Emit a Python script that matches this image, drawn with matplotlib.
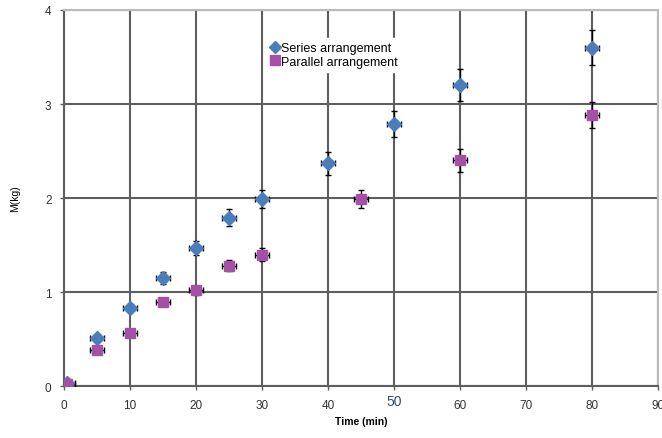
import numpy as np
import matplotlib
matplotlib.use("Agg")
import matplotlib.pyplot as plt
from matplotlib.lines import Line2D

plt.rcParams['font.family'] = ['Liberation Sans', 'DejaVu Sans']

series_t = [0.5, 5, 10, 15, 20, 25, 30, 40, 50, 60, 80]
series_m = [0.03, 0.51, 0.83, 1.15, 1.47, 1.79, 1.99, 2.37, 2.79, 3.20, 3.60]
series_err = [0.01, 0.03, 0.04, 0.06, 0.07, 0.09, 0.10, 0.12, 0.14, 0.17, 0.19]

parallel_t = [0.5, 5, 10, 15, 20, 25, 30, 45, 60, 80]
parallel_m = [0.02, 0.38, 0.57, 0.89, 1.02, 1.28, 1.40, 1.99, 2.40, 2.88]
parallel_err = [0.01, 0.02, 0.03, 0.04, 0.05, 0.06, 0.07, 0.10, 0.12, 0.14]

t_err = 1.1

blue = '#4a7ebb'
purple = '#a550a6'

fig = plt.figure(figsize=(6.62, 4.39), dpi=100)
ax = fig.add_axes([0.0967, 0.118, 0.8973, 0.857])

ax.errorbar(series_t, series_m, xerr=t_err, yerr=series_err, fmt='D', ms=7.5,
            color=blue, mec=blue, ecolor='black', elinewidth=1, capsize=2.5,
            capthick=1, zorder=3)
ax.errorbar(parallel_t, parallel_m, xerr=t_err, yerr=parallel_err, fmt='s', ms=7.5,
            color=purple, mec=purple, ecolor='black', elinewidth=1, capsize=2.5,
            capthick=1, zorder=3)

ax.set_xlim(0, 90)
ax.set_ylim(0, 4)
ax.set_xticks(np.arange(0, 91, 10))
ax.set_yticks(np.arange(0, 5, 1))
ax.grid(True, color='#5e5e5e', linewidth=1.5)
ax.set_axisbelow(True)

for side in ['top', 'right']:
    ax.spines[side].set_color('#bbbbbb')
    ax.spines[side].set_linewidth(1.5)
for side in ['left', 'bottom']:
    ax.spines[side].set_color('#5e5e5e')
    ax.spines[side].set_linewidth(1.5)

ax.tick_params(axis='both', length=3, width=1, color='#5e5e5e',
               labelsize=8.5, labelcolor='#333333', pad=6)

ax.set_xlabel('Time (min)', fontsize=7.5, fontweight='bold', labelpad=4)
ax.set_ylabel('M(kg)', fontsize=7.5, labelpad=18)

# the odd "50" label
fig.canvas.draw()
for lab in ax.get_xticklabels():
    if lab.get_text() == '50':
        lab.set_color('#2e4a6e')
        lab.set_fontsize(10)
        lab.set_y(0.012)

handles = [Line2D([], [], ls='none', marker='D', ms=6, color=blue),
           Line2D([], [], ls='none', marker='s', ms=6.5, color=purple)]
ax.legend(handles, ['Series arrangement', 'Parallel arrangement'],
          loc='upper left', bbox_to_anchor=(0.34, 0.925), fontsize=9,
          frameon=True, fancybox=False, framealpha=1, edgecolor='white',
          handletextpad=0.1, labelspacing=0.15, borderpad=0.3,
          handlelength=0.8, borderaxespad=0)

fig.savefig('out.png', dpi=100)
